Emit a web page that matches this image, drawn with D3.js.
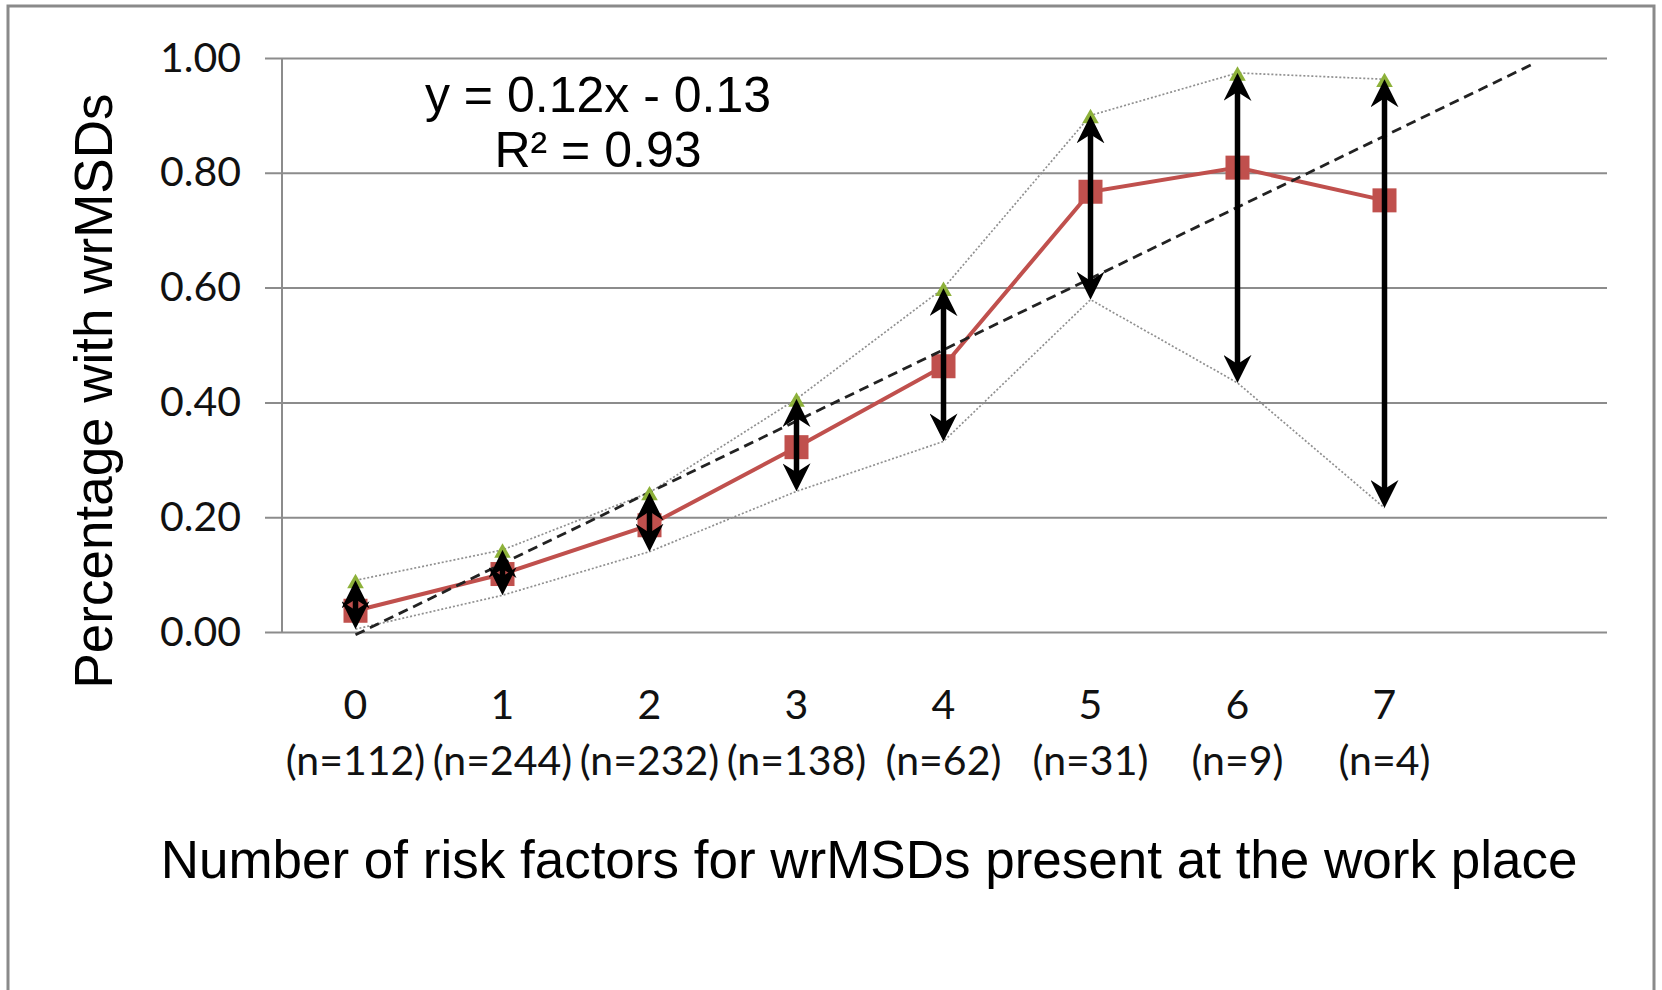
<!DOCTYPE html>
<html>
<head>
<meta charset="utf-8">
<script src="https://cdn.jsdelivr.net/npm/d3@7"></script>
<style>
  body { margin: 0; background: #fff; }
</style>
</head>
<body>
<svg id="chart"></svg>
<script>
// data
var categories = ["0", "1", "2", "3", "4", "5", "6", "7"];
var sampleSizes = [112, 244, 232, 138, 62, 31, 9, 4];
var meanValues = [0.037, 0.101, 0.186, 0.322, 0.463, 0.767, 0.809, 0.752];
var upperValues = [0.090, 0.143, 0.243, 0.406, 0.599, 0.900, 0.974, 0.963];
var lowerValues = [0.005, 0.064, 0.140, 0.245, 0.332, 0.579, 0.434, 0.216];
var yTicks = [0, 0.2, 0.4, 0.6, 0.8, 1.0];
var equationLines = ["y = 0.12x - 0.13", "R\u00b2 = 0.93"];

var svgWidth = 1662;
var svgHeight = 990;

var svg = d3.select("#chart")
  .attr("width", svgWidth)
  .attr("height", svgHeight);

// outer frame (no bottom edge, it is cut off)
svg.append("path")
  .attr("d", "M8,990 L8,6 L1654,6 L1654,990")
  .attr("fill", "none")
  .attr("stroke", "#8a8a8a")
  .attr("stroke-width", 3);

// one extra slot on the right for the forward trendline
var x = d3.scaleBand()
  .domain(d3.range(categories.length + 1))
  .range([282, 1605]);

var y = d3.scaleLinear()
  .domain([0, 1])
  .range([632, 58]);

function cx(i) { return x(i) + x.bandwidth() / 2; }

// gridlines + y labels
var yAxis = svg.append("g")
  .attr("transform", "translate(265,0)")
  .call(d3.axisLeft(y)
    .tickValues(yTicks)
    .tickSize(-(1607 - 265))
    .tickPadding(24)
    .tickFormat(d3.format(".2f")));

yAxis.select(".domain").remove();
yAxis.selectAll(".tick line")
  .attr("stroke", "#8c8c8c")
  .attr("stroke-width", 2);
yAxis.selectAll(".tick text")
  .attr("font-family", "Lato, 'Open Sans', sans-serif")
  .attr("font-size", 41)
  .attr("fill", "#111");

// vertical axis line
svg.append("line")
  .attr("x1", 282).attr("x2", 282)
  .attr("y1", y(1)).attr("y2", y(0))
  .attr("stroke", "#8c8c8c")
  .attr("stroke-width", 2);

// x labels, two lines each
var xAxis = svg.append("g")
  .attr("transform", "translate(0," + y(0) + ")")
  .call(d3.axisBottom(x).tickSize(0).tickFormat(""));
xAxis.select(".domain").remove();

var xLabels = svg.append("g")
  .selectAll("text")
  .data(categories)
  .enter()
  .append("text")
  .attr("text-anchor", "middle")
  .attr("font-family", "Lato, 'Open Sans', sans-serif")
  .attr("font-size", 41)
  .attr("fill", "#111");

xLabels.append("tspan")
  .attr("x", function(d, i) { return cx(i); })
  .attr("y", 719)
  .text(function(d) { return d; });

xLabels.append("tspan")
  .attr("x", function(d, i) { return cx(i); })
  .attr("y", 775)
  .text(function(d, i) { return "(n=" + sampleSizes[i] + ")"; });

// dotted bounds
var boundLine = d3.line()
  .x(function(d, i) { return cx(i); })
  .y(function(d) { return y(d); });

[upperValues, lowerValues].forEach(function(vals) {
  svg.append("path")
    .attr("d", boundLine(vals))
    .attr("fill", "none")
    .attr("stroke", "#909090")
    .attr("stroke-width", 1.7)
    .attr("stroke-dasharray", "2,2");
});

// mean line and squares
svg.append("path")
  .attr("d", boundLine(meanValues))
  .attr("fill", "none")
  .attr("stroke", "#c0504d")
  .attr("stroke-width", 4);

svg.selectAll("rect.mean")
  .data(meanValues)
  .enter()
  .append("rect")
  .attr("class", "mean")
  .attr("x", function(d, i) { return cx(i) - 12; })
  .attr("y", function(d) { return y(d) - 12; })
  .attr("width", 24)
  .attr("height", 24)
  .attr("fill", "#c0504d");

// linear trendline, x = 1..n like the spreadsheet, one period forward
var xs = meanValues.map(function(d, i) { return i + 1; });
var mx = d3.mean(xs), my = d3.mean(meanValues);
var sxy = d3.sum(xs, function(v, i) { return (v - mx) * (meanValues[i] - my); });
var sxx = d3.sum(xs, function(v) { return (v - mx) * (v - mx); });
var slope = sxy / sxx;
var intercept = my - slope * mx;

svg.append("line")
  .attr("x1", cx(0))
  .attr("y1", y(intercept + slope * 1))
  .attr("x2", cx(categories.length))
  .attr("y2", y(intercept + slope * (categories.length + 1)))
  .attr("stroke", "#222")
  .attr("stroke-width", 2.8)
  .attr("stroke-dasharray", "10,6");

// green triangles at upper values
svg.selectAll("path.tri")
  .data(upperValues)
  .enter()
  .append("path")
  .attr("class", "tri")
  .attr("d", d3.symbol().type(d3.symbolTriangle).size(120))
  .attr("transform", function(d, i) { return "translate(" + cx(i) + "," + (y(d) + 3) + ")"; })
  .attr("fill", "#8db13a");

// double-headed arrows
svg.append("defs").append("marker")
  .attr("id", "head")
  .attr("viewBox", "0 0 28 28")
  .attr("refX", 20)
  .attr("refY", 14)
  .attr("markerWidth", 28)
  .attr("markerHeight", 28)
  .attr("markerUnits", "userSpaceOnUse")
  .attr("orient", "auto-start-reverse")
  .append("path")
  .attr("d", "M0,0 L28,14 L0,28 L9,14 Z")
  .attr("fill", "#000");

svg.selectAll("line.err")
  .data(upperValues)
  .enter()
  .append("line")
  .attr("class", "err")
  .attr("x1", function(d, i) { return cx(i); })
  .attr("x2", function(d, i) { return cx(i); })
  .attr("y1", function(d, i) { return y(lowerValues[i]) - 8; })
  .attr("y2", function(d) { return y(d) + 8; })
  .attr("stroke", "#000")
  .attr("stroke-width", 5.5)
  .attr("marker-start", "url(#head)")
  .attr("marker-end", "url(#head)");

// equation
svg.selectAll("text.eq")
  .data(equationLines)
  .enter()
  .append("text")
  .attr("class", "eq")
  .attr("x", 598)
  .attr("y", function(d, i) { return 112 + i * 55; })
  .attr("text-anchor", "middle")
  .attr("font-family", "'Liberation Sans', Arial, sans-serif")
  .attr("font-size", 50)
  .attr("fill", "#000")
  .text(function(d) { return d; });

// axis titles
svg.append("text")
  .attr("transform", "translate(112,391) rotate(-90)")
  .attr("text-anchor", "middle")
  .attr("font-family", "'Liberation Sans', Arial, sans-serif")
  .attr("font-size", 53)
  .attr("fill", "#000")
  .text("Percentage with wrMSDs");

svg.append("text")
  .attr("x", 869)
  .attr("y", 878)
  .attr("text-anchor", "middle")
  .attr("font-family", "'Liberation Sans', Arial, sans-serif")
  .attr("font-size", 53)
  .attr("fill", "#000")
  .text("Number of risk factors for wrMSDs present at the work place");
</script>
</body>
</html>
